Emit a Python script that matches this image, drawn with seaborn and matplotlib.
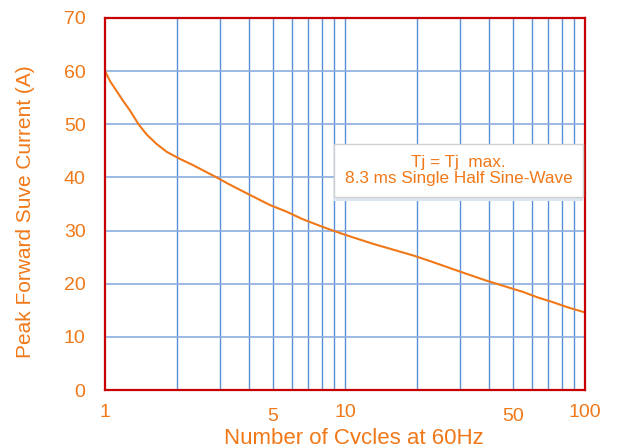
import numpy as np
import pandas as pd
import seaborn as sns
import matplotlib.pyplot as plt
from matplotlib.ticker import LogLocator, NullFormatter, FixedLocator
from matplotlib.transforms import ScaledTranslation
import matplotlib.patheffects as pe

# values
cycles = [1, 1.05, 1.12, 1.19, 1.27, 1.38, 1.49, 1.64, 1.81, 2.05, 2.33, 2.92,
          3.26, 4.06, 4.87, 5.68, 6.62, 7.64, 8.89, 10.5, 13.1, 19.3, 22.8, 31.4,
          39.3, 47.2, 54.8, 63.7, 73.8, 85.5, 100]
current = [60, 58.1, 56.2, 54.4, 52.6, 50.0, 48.1, 46.3, 44.8, 43.5, 42.3, 40.0,
           38.8, 36.6, 34.8, 33.6, 32.2, 31.1, 30.0, 28.9, 27.5, 25.3, 24.2, 22.0,
           20.5, 19.4, 18.5, 17.4, 16.5, 15.5, 14.6]
x_ticks = [1, 5, 10, 50, 100]
x_tick_labels = ['1', '5', '10', '50', '100']
y_ticks = [0, 10, 20, 30, 40, 50, 60, 70]

orange = '#F07818'
red = '#C80000'
blue = '#5B8FD8'
light_blue = '#8AAEE0'

sns.set_style('white')
plt.rcParams['font.family'] = ['Liberation Sans', 'DejaVu Sans']

df = pd.DataFrame({'cycles': cycles, 'current': current})

fig = plt.figure(figsize=(6.18, 4.44), dpi=100)
ax = fig.add_axes([105 / 618, 1 - 390 / 444, 480 / 618, 372 / 444])

sns.lineplot(data=df, x='cycles', y='current', ax=ax, color=orange, linewidth=1.5, zorder=3)

ax.set_xscale('log')
ax.set_xlim(1, 100)
ax.set_ylim(0, 70)

ax.xaxis.set_major_locator(FixedLocator(x_ticks))
ax.set_xticks(x_ticks, labels=x_tick_labels)
ax.xaxis.set_minor_locator(LogLocator(base=10, subs=np.arange(2, 10)))
ax.xaxis.set_minor_formatter(NullFormatter())
ax.set_yticks(y_ticks)

# vertical grid at every decade subdivision, horizontal grid at every 10 A
ax.grid(False)
for v in [2, 3, 4, 5, 6, 7, 8, 9, 10, 20, 30, 40, 50, 60, 70, 80, 90]:
    ax.axvline(v, color=blue, linewidth=1.0, zorder=1)
for h in y_ticks[1:-1]:
    ax.axhline(h, color=light_blue, linewidth=1.2, zorder=1)

for s in ax.spines.values():
    s.set_color(red)
    s.set_linewidth(1.6)
    s.set_visible(True)
    s.set_zorder(4)

ax.tick_params(axis='both', which='both', length=0, labelsize=14, labelcolor=orange)
ax.tick_params(axis='x', pad=10)
ax.tick_params(axis='y', pad=14)

# staggered x labels, 5 and 50 sit a bit lower
for lab in ax.get_xticklabels():
    if lab.get_text() in ('5', '50'):
        lab.set_transform(lab.get_transform() + ScaledTranslation(0, -0.045, fig.dpi_scale_trans))

ax.set_xlabel('Number of Cycles at 60Hz', fontsize=16, color=orange)
ax.set_ylabel('Peak Forward Suve Current (A)', fontsize=15, color=orange)
ax.xaxis.set_label_coords(0.519, -0.102)
ax.yaxis.set_label_coords(-0.145, 0.48)

t = ax.text(0.737, 0.59, 'Tj = Tj  max.\n8.3 ms Single Half Sine-Wave',
            transform=ax.transAxes, ha='center', va='center', fontsize=12.3,
            color=orange, linespacing=1.1, zorder=5,
            bbox=dict(boxstyle='square,pad=0.62', facecolor='white', edgecolor='#D0D0D0', linewidth=1))
t.get_bbox_patch().set_path_effects([
    pe.SimplePatchShadow(offset=(0, -3), shadow_rgbFace='#DCE6F2', alpha=1),
    pe.Normal()])

fig.savefig('out.png', dpi=100)
